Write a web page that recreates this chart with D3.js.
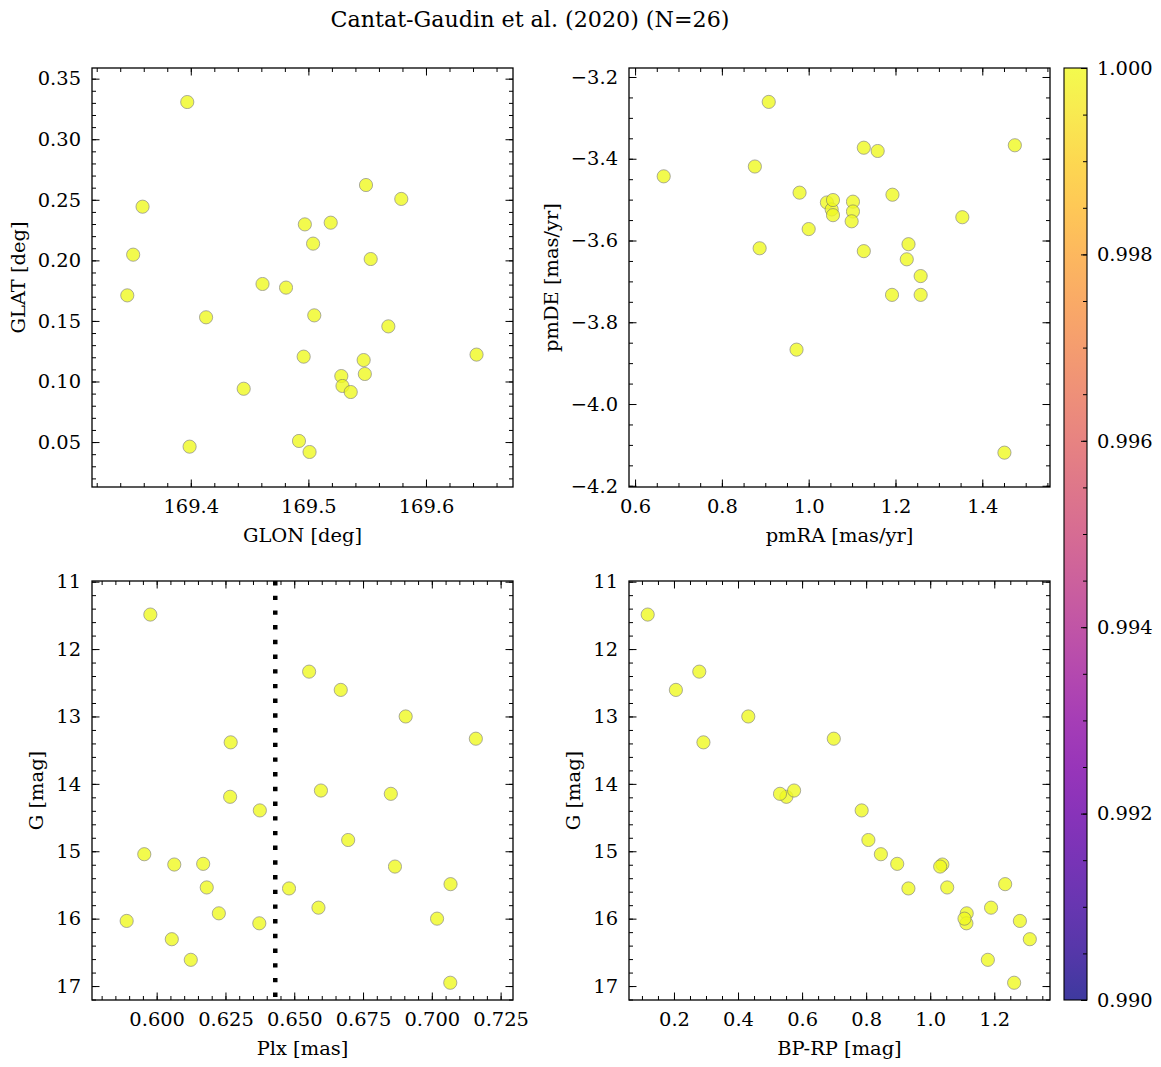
<!DOCTYPE html>
<html>
<head>
<meta charset="utf-8">
<script src="https://cdn.jsdelivr.net/npm/d3@7"></script>
<style>
  html, body { margin: 0; padding: 0; background: #fff; }
  svg { display: block; }
  text { font-family: "DejaVu Serif", serif; fill: #000; }
</style>
</head>
<body>
<svg id="fig" width="1161" height="1067"></svg>
<script>
// ---------------- data ----------------
const titleText = "Cantat-Gaudin et al. (2020) (N=26)";

// Panel 1: galactic coordinates
const glon = [169.397, 169.359, 169.351, 169.346, 169.413, 169.399, 169.445, 169.461, 169.481, 169.497,
              169.504, 169.519, 169.505, 169.496, 169.492, 169.501, 169.528, 169.529, 169.536, 169.547,
              169.548, 169.549, 169.553, 169.568, 169.579, 169.643];
const glat = [0.3307, 0.2443, 0.2047, 0.1711, 0.1530, 0.0462, 0.0940, 0.1805, 0.1775, 0.2297,
              0.2138, 0.2311, 0.1546, 0.1205, 0.0509, 0.0418, 0.1045, 0.0963, 0.0913, 0.1177,
              0.1062, 0.2622, 0.2011, 0.1455, 0.2507, 0.1222];

// Panel 2: proper motions
const pmra = [0.666, 0.876, 0.908, 0.887, 0.979, 1.000, 0.972, 1.042, 1.053, 1.056,
              1.056, 1.102, 1.102, 1.099, 1.127, 1.159, 1.127, 1.193, 1.192, 1.230,
              1.226, 1.258, 1.258, 1.354, 1.475, 1.451];
const pmde = [-3.443, -3.419, -3.261, -3.619, -3.483, -3.572, -3.867, -3.507, -3.524, -3.538,
              -3.501, -3.505, -3.529, -3.553, -3.373, -3.381, -3.626, -3.488, -3.733, -3.609,
              -3.646, -3.687, -3.733, -3.543, -3.367, -4.119];

// Panels 3 & 4: parallax, G magnitude, colour
const plx  = [0.5977, 0.5891, 0.5955, 0.6064, 0.6055, 0.6124, 0.6169, 0.6182, 0.6226, 0.6269,
              0.6267, 0.6375, 0.6373, 0.6481, 0.6554, 0.6597, 0.6588, 0.6669, 0.6696, 0.6905,
              0.6851, 0.6866, 0.7019, 0.7068, 0.7067, 0.7160];
const gmag = [11.488, 16.034, 15.044, 15.197, 16.305, 16.611, 15.187, 15.537, 15.921, 13.384,
              14.192, 14.394, 16.069, 15.552, 12.335, 14.099, 15.837, 12.606, 14.833, 13.000,
              14.148, 15.227, 16.000, 15.488, 16.951, 13.330];
const bprp = [0.118, 1.280, 0.846, 1.038, 1.311, 1.180, 0.897, 1.053, 1.114, 0.292,
              0.551, 0.786, 1.113, 0.932, 0.279, 0.575, 1.190, 0.206, 0.807, 0.432,
              0.531, 1.031, 1.107, 1.234, 1.262, 0.699];

// Membership probability (colour)
const proba = [1.0, 1.0, 1.0, 1.0, 1.0, 1.0, 1.0, 1.0, 1.0, 1.0,
               1.0, 1.0, 1.0, 1.0, 1.0, 1.0, 1.0, 1.0, 1.0, 1.0,
               1.0, 1.0, 1.0, 1.0, 1.0, 1.0];

// Reference parallax (dotted line)
const plxRef = 0.6431;

// Axis limits
const glonLim = [169.316, 169.674];
const glatLim = [0.0129, 0.3588];
const pmraLim = [0.586, 1.556];
const pmdeLim = [-4.203, -3.178];
const plxLim  = [0.5765, 0.7295];
const gLim    = [17.207, 10.99];
const bprpLim = [0.0596, 1.374];
const cbLim   = [0.990, 1.000];

// Tick labels (major ticks)
const glonTicks = [169.4, 169.5, 169.6];
const glatTicks = [0.05, 0.10, 0.15, 0.20, 0.25, 0.30, 0.35];
const pmraTicks = [0.6, 0.8, 1.0, 1.2, 1.4];
const pmdeTicks = [-4.2, -4.0, -3.8, -3.6, -3.4, -3.2];
const plxTicks  = [0.600, 0.625, 0.650, 0.675, 0.700, 0.725];
const gTicks    = [11, 12, 13, 14, 15, 16, 17];
const bprpTicks = [0.2, 0.4, 0.6, 0.8, 1.0, 1.2];
const cbTicks   = [0.990, 0.992, 0.994, 0.996, 0.998, 1.000];

// ---------------- drawing ----------------
const svg = d3.select("#fig");
const FONT = 19.44;
const TITLE_FONT = 22.2;
const PW = 421, PH = 419;
const MAJ = 7.5, MIN = 4;
const ALPHA = 0.8;

const color = d3.scaleSequential(d3.interpolatePlasma).domain(cbLim);

const fmtMinus = f => (v => d3.format(f)(v).replace("-", "\u2212"));

function minorVals(lim, step) {
  const lo = Math.min(lim[0], lim[1]), hi = Math.max(lim[0], lim[1]);
  const a = Math.ceil(lo / step - 1e-9), b = Math.floor(hi / step + 1e-9);
  return d3.range(a, b + 1).map(i => +(i * step).toFixed(8));
}

function styleAxis(g) {
  g.select(".domain").remove();
  g.selectAll("line").attr("stroke", "#000").attr("stroke-width", 1);
  g.attr("font-family", "DejaVu Serif").attr("font-size", FONT);
  g.selectAll("text").attr("fill", "#000");
}

function panel(cfg) {
  const x0 = cfg.x, y0 = cfg.y;
  const xs = d3.scaleLinear().domain(cfg.xLim).range([x0, x0 + PW]);
  const ys = d3.scaleLinear().domain(cfg.yLim).range([y0 + PH, y0]);
  const g = svg.append("g");

  if (cfg.vline !== undefined) {
    g.append("line")
      .attr("x1", xs(cfg.vline)).attr("x2", xs(cfg.vline))
      .attr("y1", y0).attr("y2", y0 + PH)
      .attr("stroke", "#000").attr("stroke-width", 4.5)
      .attr("stroke-dasharray", "4.4,10.3");
  }

  g.append("g").selectAll("circle")
    .data(cfg.xv.map((v, i) => ({x: v, y: cfg.yv[i], c: proba[i]})))
    .join("circle")
    .attr("cx", d => xs(d.x)).attr("cy", d => ys(d.y))
    .attr("r", 6.6)
    .attr("fill", d => color(d.c))
    .attr("stroke", "#6e6e6e").attr("stroke-width", 0.7)
    .attr("opacity", ALPHA);

  const xMinor = minorVals(cfg.xLim, cfg.xMinor);
  const yMinor = minorVals(cfg.yLim, cfg.yMinor);

  g.append("g").attr("transform", `translate(0,${y0 + PH})`)
    .call(d3.axisBottom(xs).tickValues(xMinor).tickSize(-MIN).tickFormat("")).call(styleAxis);
  g.append("g").attr("transform", `translate(0,${y0 + PH})`)
    .call(d3.axisBottom(xs).tickValues(cfg.xTicks).tickSize(-MAJ).tickPadding(12).tickFormat(cfg.xFmt)).call(styleAxis);
  g.append("g").attr("transform", `translate(0,${y0})`)
    .call(d3.axisTop(xs).tickValues(xMinor).tickSize(-MIN).tickFormat("")).call(styleAxis);
  g.append("g").attr("transform", `translate(0,${y0})`)
    .call(d3.axisTop(xs).tickValues(cfg.xTicks).tickSize(-MAJ).tickFormat("")).call(styleAxis);

  g.append("g").attr("transform", `translate(${x0},0)`)
    .call(d3.axisLeft(ys).tickValues(yMinor).tickSize(-MIN).tickFormat("")).call(styleAxis);
  const yl = g.append("g").attr("transform", `translate(${x0},0)`)
    .call(d3.axisLeft(ys).tickValues(cfg.yTicks).tickSize(-MAJ).tickPadding(11).tickFormat(cfg.yFmt)).call(styleAxis);
  g.append("g").attr("transform", `translate(${x0 + PW},0)`)
    .call(d3.axisRight(ys).tickValues(yMinor).tickSize(-MIN).tickFormat("")).call(styleAxis);
  g.append("g").attr("transform", `translate(${x0 + PW},0)`)
    .call(d3.axisRight(ys).tickValues(cfg.yTicks).tickSize(-MAJ).tickFormat("")).call(styleAxis);

  g.append("rect").attr("x", x0).attr("y", y0).attr("width", PW).attr("height", PH)
    .attr("fill", "none").attr("stroke", "#000").attr("stroke-width", 1.3);

  g.append("text").attr("x", x0 + PW / 2).attr("y", y0 + PH + 55)
    .attr("text-anchor", "middle").attr("font-size", FONT).text(cfg.xLabel);

  let minLeft = x0;
  yl.selectAll("text").each(function () {
    const b = this.getBBox();
    const ctm = this.getCTM();
    minLeft = Math.min(minLeft, b.x + ctm.e);
  });
  const lx = minLeft - 13;
  g.append("text").attr("transform", `translate(${lx},${y0 + PH / 2}) rotate(-90)`)
    .attr("text-anchor", "middle").attr("font-size", FONT).text(cfg.yLabel);
}

svg.append("text").attr("x", 530).attr("y", 27).attr("text-anchor", "middle")
  .attr("font-size", TITLE_FONT).text(titleText);

panel({x: 92, y: 68, xv: glon, yv: glat, xLim: glonLim, yLim: glatLim,
       xTicks: glonTicks, yTicks: glatTicks, xMinor: 0.02, yMinor: 0.01,
       xFmt: fmtMinus(".1f"), yFmt: fmtMinus(".2f"),
       xLabel: "GLON [deg]", yLabel: "GLAT [deg]"});
panel({x: 629, y: 68, xv: pmra, yv: pmde, xLim: pmraLim, yLim: pmdeLim,
       xTicks: pmraTicks, yTicks: pmdeTicks, xMinor: 0.05, yMinor: 0.05,
       xFmt: fmtMinus(".1f"), yFmt: fmtMinus(".1f"),
       xLabel: "pmRA [mas/yr]", yLabel: "pmDE [mas/yr]"});
panel({x: 92, y: 581, xv: plx, yv: gmag, xLim: plxLim, yLim: gLim,
       xTicks: plxTicks, yTicks: gTicks, xMinor: 0.005, yMinor: 0.2,
       xFmt: fmtMinus(".3f"), yFmt: fmtMinus("d"),
       xLabel: "Plx [mas]", yLabel: "G [mag]", vline: plxRef});
panel({x: 629, y: 581, xv: bprp, yv: gmag, xLim: bprpLim, yLim: gLim,
       xTicks: bprpTicks, yTicks: gTicks, xMinor: 0.05, yMinor: 0.2,
       xFmt: fmtMinus(".1f"), yFmt: fmtMinus("d"),
       xLabel: "BP-RP [mag]", yLabel: "G [mag]"});

// ---------------- colorbar ----------------
const cbX = 1064, cbW = 23, cbTop = 68, cbBot = 1000;
const cs = d3.scaleLinear().domain(cbLim).range([cbBot, cbTop]);
const defs = svg.append("defs");
const grad = defs.append("linearGradient").attr("id", "cbgrad")
  .attr("x1", 0).attr("y1", 1).attr("x2", 0).attr("y2", 0);
grad.selectAll("stop").data(d3.range(0, 21).map(i => i / 20)).join("stop")
  .attr("offset", t => t)
  .attr("stop-color", t => d3.interpolatePlasma(t));
svg.append("rect").attr("x", cbX).attr("y", cbTop).attr("width", cbW).attr("height", cbBot - cbTop)
  .attr("fill", "url(#cbgrad)").attr("opacity", ALPHA);
svg.append("g").attr("transform", `translate(${cbX + cbW},0)`)
  .call(d3.axisRight(cs).tickValues(minorVals(cbLim, 0.0005)).tickSize(-4).tickFormat(""))
  .call(styleAxis);
svg.append("g").attr("transform", `translate(${cbX + cbW},0)`)
  .call(d3.axisRight(cs).tickValues(cbTicks).tickSize(-6).tickPadding(10).tickFormat(d3.format(".3f")))
  .call(styleAxis);
svg.append("rect").attr("x", cbX).attr("y", cbTop).attr("width", cbW).attr("height", cbBot - cbTop)
  .attr("fill", "none").attr("stroke", "#000").attr("stroke-width", 1.1);
</script>
</body>
</html>
